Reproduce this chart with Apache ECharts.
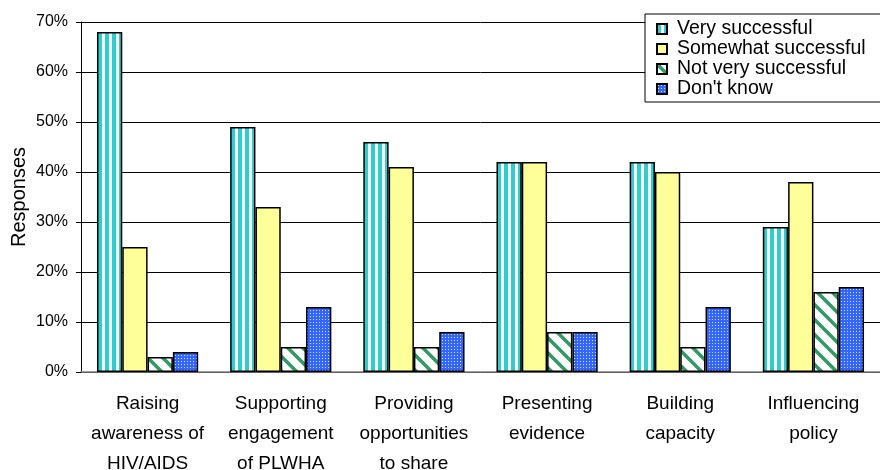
<!DOCTYPE html>
<html>
<head>
<meta charset="utf-8">
<script src="https://cdn.jsdelivr.net/npm/echarts@6/dist/echarts.min.js"></script>
<style>
  html, body { margin: 0; padding: 0; background: #fff; }
  #chart { width: 880px; height: 470px; }
</style>
</head>
<body>
<div id="chart"></div>
<script>
// Categories and response shares (%)
const categories = [
  'Raising\nawareness of\nHIV/AIDS',
  'Supporting\nengagement\nof PLWHA',
  'Providing\nopportunities\nto share',
  'Presenting\nevidence',
  'Building\ncapacity',
  'Influencing\npolicy'
];
const seriesNames = ['Very successful', 'Somewhat successful', 'Not very successful', "Don't know"];
const verySuccessful     = [68, 49, 46, 42, 42, 29];
const somewhatSuccessful = [25, 33, 41, 42, 40, 38];
const notVerySuccessful  = [3, 5, 5, 8, 5, 16];
const dontKnow           = [4, 13, 8, 8, 13, 17];
const yTicks = { min: 0, max: 70, interval: 10 };

// Fill patterns drawn on small canvases
function makeCanvas(w, h, draw) {
  const c = document.createElement('canvas');
  c.width = w; c.height = h;
  draw(c.getContext('2d'));
  return c;
}
// vertical cyan stripes
const stripeCyan = makeCanvas(7, 7, ctx => {
  ctx.fillStyle = '#f4ffff'; ctx.fillRect(0, 0, 7, 7);
  ctx.fillStyle = '#33cccc'; ctx.fillRect(0, 0, 4, 7);
});
// green diagonal hatch, top-left to bottom-right
const diagGreen = makeCanvas(15, 15, ctx => {
  ctx.fillStyle = '#ffffff'; ctx.fillRect(0, 0, 15, 15);
  ctx.strokeStyle = '#339966'; ctx.lineWidth = 3.6;
  ctx.beginPath();
  for (let k = -15; k <= 15; k += 15) { ctx.moveTo(k - 2, -2); ctx.lineTo(k + 17, 17); }
  ctx.stroke();
});
// blue with a fine grid of light dots
const dotsBlue = makeCanvas(3, 3, ctx => {
  ctx.fillStyle = '#3366ff'; ctx.fillRect(0, 0, 3, 3);
  ctx.fillStyle = '#d6e0ff'; ctx.fillRect(1, 1, 1, 1);
});

const fills = [
  { image: stripeCyan, repeat: 'repeat' },
  '#ffff99',
  { image: diagGreen, repeat: 'repeat' },
  { image: dotsBlue, repeat: 'repeat' }
];
const values = [verySuccessful, somewhatSuccessful, notVerySuccessful, dontKnow];

const font = 'Liberation Sans, Arial, sans-serif';
const chart = echarts.init(document.getElementById('chart'), null, { renderer: 'canvas' });
chart.setOption({
  animation: false,
  textStyle: { fontFamily: font, color: '#000' },
  grid: { left: 81, right: 0, top: 22, bottom: 98, containLabel: false, outerBoundsMode: 'none' },
  legend: {
    orient: 'vertical',
    left: 645, top: 14,
    padding: [5, 20, 3, 11],
    itemGap: 0,
    itemWidth: 10, itemHeight: 10,
    icon: 'rect',
    backgroundColor: '#fff',
    borderColor: '#000', borderWidth: 1,
    textStyle: { fontFamily: font, fontSize: 19.5, lineHeight: 20, color: '#000', padding: [0, 0, 0, 5] },
    data: seriesNames
  },
  xAxis: {
    type: 'category',
    data: categories,
    axisLine: { lineStyle: { color: '#808080', width: 1.5 } },
    axisTick: { show: false },
    axisLabel: { fontFamily: font, fontSize: 19, color: '#000', lineHeight: 30, margin: 17, interval: 0 }
  },
  yAxis: {
    type: 'value',
    min: yTicks.min, max: yTicks.max, interval: yTicks.interval,
    name: 'Responses',
    nameLocation: 'middle',
    nameGap: 52,
    nameMoveOverlap: false,
    nameTextStyle: { fontFamily: font, fontSize: 20, color: '#000' },
    axisLine: { show: true, lineStyle: { color: '#000', width: 1 } },
    axisTick: { show: true, length: 5, lineStyle: { color: '#000' } },
    axisLabel: { fontFamily: font, fontSize: 16, color: '#000', formatter: '{value}%', margin: 13 },
    splitLine: { lineStyle: { color: '#000', width: 1 } }
  },
  series: seriesNames.map((name, i) => ({
    name,
    type: 'bar',
    data: values[i],
    barGap: '0%',
    barCategoryGap: '24%',
    itemStyle: { color: fills[i], borderColor: '#000', borderWidth: 1.5 }
  }))
});
</script>
</body>
</html>
